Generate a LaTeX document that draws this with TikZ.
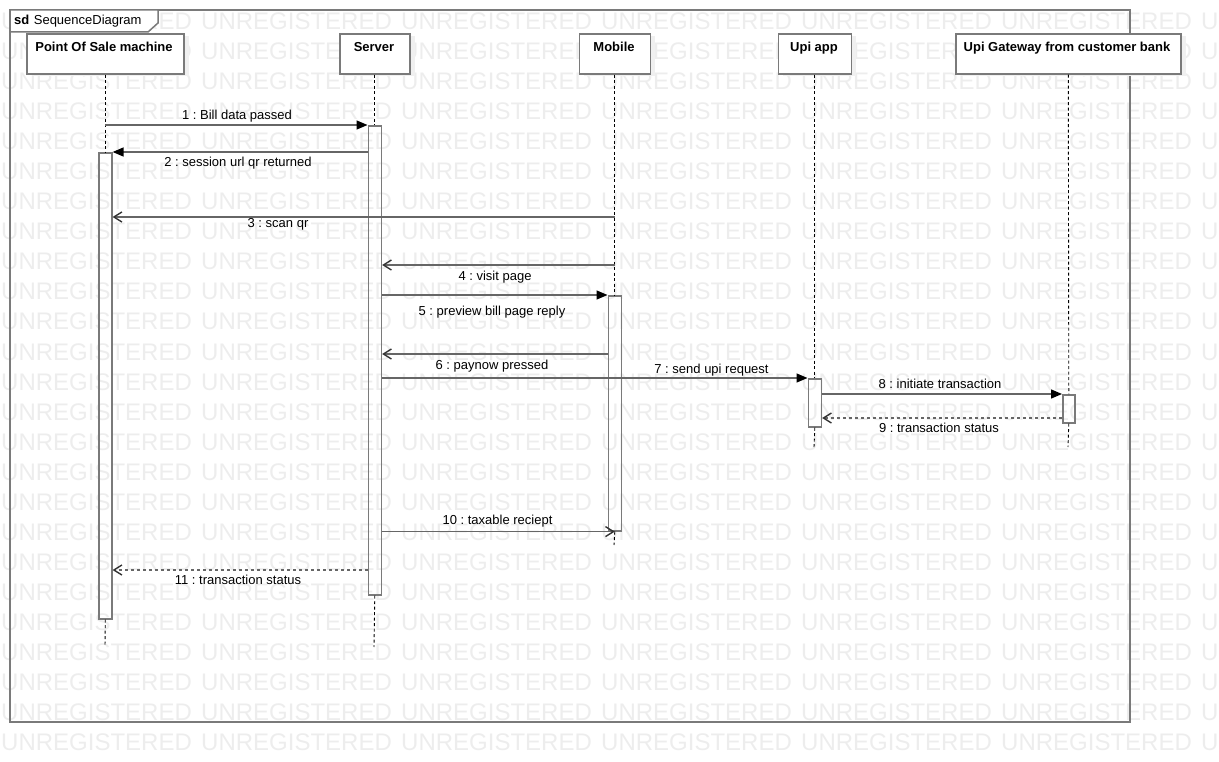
\documentclass[tikz,border=0pt]{standalone}
\usepackage{fontspec}
\setmainfont{Liberation Sans}
\usetikzlibrary{arrows.meta,shadows}
\frenchspacing
\begin{document}
\begin{tikzpicture}[x=1pt,y=-1pt,
 wm/.style={anchor=base west,inner sep=0pt,text=black!7,font=\fontsize{24}{24}\selectfont},
 frame/.style={draw=black!52,line width=2pt},
 head/.style={draw=black!52,line width=1.6pt,fill=white,anchor=north west,inner sep=0pt,minimum height=40pt,
   drop shadow={shadow xshift=5pt,shadow yshift=-2pt,fill=black!6,opacity=1}},
 ttl/.style={font=\bfseries\fontsize{13}{15}\selectfont,inner sep=0pt,anchor=base},
 lbl/.style={font=\fontsize{13}{15}\selectfont,inner sep=0pt,anchor=base},
 act/.style={draw=black!52,line width=1.6pt,anchor=north west,inner sep=0pt,minimum width=13pt},
 life/.style={black,line width=0.9pt,dash pattern=on 3pt off 2.5pt},
 msg/.style={draw=black!60,line width=1.4pt},
 sync/.style={msg,-{Triangle[length=11pt,width=9pt,black]}},
 async/.style={msg,-{Straight Barb[length=8pt,width=10pt,black!80]}},
 reply/.style={msg,dash pattern=on 3pt off 3pt,-{Straight Barb[length=8pt,width=10pt,black!80]}}
]
\useasboundingbox (0,0) rectangle (1219,762);
% watermark
\foreach \r in {0,...,24}{
  \foreach \c in {0,...,6}{
    \node[wm] at (\c*200+1,30+\r*30) {UNREGISTERED};
  }
}
% frame
\draw[frame] (10,10) rectangle (1130,722);
\filldraw[fill=white,draw=black!52,line width=1.5pt] (10,10) -- (158,10) -- (158,23) -- (148,32) -- (10,32) -- cycle;
\node[lbl,anchor=base west] (sd) at (14,25) {\textbf{sd}\hspace{4.5pt}SequenceDiagram};

% lifeline heads
\node[head,minimum width=157pt] (pos) at (26,33) {};
\node[head,minimum width=70pt] (srv) at (339,33) {};
\node[head,minimum width=71pt] (mob) at (578.5,33) {};
\node[head,minimum width=73pt] (upi) at (777.5,33) {};
\node[head,minimum width=225pt] (gw) at (955,33) {};
\node[ttl] (posT) at (104,52) {Point Of Sale machine};
\node[ttl] (srvT) at (374,52) {Server};
\node[ttl] (mobT) at (614,52) {Mobile};
\node[ttl] (upiT) at (814,52) {Upi app};
\node[ttl] (gwT) at (1067,52) {Upi Gateway from customer bank};

% activations
\node[act,minimum height=466pt] (posA) at (98,152) {};
\node[act,minimum height=469pt] (srvA) at (367.5,125) {};
\node[act,minimum height=235pt] (mobA) at (607.5,295) {};
\node[act,minimum height=48pt] (upiA) at (807.5,378) {};
\node[act,minimum width=12pt,minimum height=28pt] (gwA) at (1062,394) {};

% lifeline ends
\coordinate (posE) at (105,647);
\coordinate (srvE) at (374,647);
\coordinate (mobE) at (614,545);
\coordinate (upiE) at (814,447);
\coordinate (gwE) at (1068,447);

\draw[life] (pos.south) -- (posA.north);
\draw[life] (posA.south) -- (posE);
\draw[life] (srv.south) -- (srvA.north);
\draw[life] (srvA.south) -- (srvE);
\draw[life] (mob.south) -- (mobA.north);
\draw[life] (mobA.south) -- (mobE);
\draw[life] (upi.south) -- (upiA.north);
\draw[life] (upiA.south) -- (upiE);
\draw[life] (gw.south) -- (gwA.north);
\draw[life] (gwA.south) -- (gwE);

% message rows
\coordinate (y3) at (0,217);
\coordinate (y4) at (0,265);
\coordinate (y6) at (0,354);
\coordinate (y9) at (0,418);
\coordinate (y11) at (0,570);

% messages
\draw[sync] (pos.south |- srvA.north) -- (srvA.north west);
\node[lbl] (l1) at (237,120) {1 : Bill data passed};
\draw[sync] (srvA.west |- posA.north) -- (posA.north east);
\node[lbl] (l2) at (238,167) {2 : session url qr returned};
\draw[async] (mob.south |- y3) -- (posA.east |- y3);
\node[lbl] (l3) at (278,228) {3 : scan qr};
\draw[async] (mob.south |- y4) -- (srvA.east |- y4);
\node[lbl] (l4) at (495,280) {4 : visit page};
\draw[sync] (srvA.east |- mobA.north) -- (mobA.north west);
\node[lbl] (l5) at (492,316) {5 : preview bill page reply};
\draw[async] (mobA.west |- y6) -- (srvA.east |- y6);
\node[lbl] (l6) at (492,369) {6 : paynow pressed};
\draw[sync] (srvA.east |- upiA.north) -- (upiA.north west);
\node[lbl] (l7) at (711.5,373) {7 : send upi request};
\draw[sync] (upiA.east |- gwA.north) -- (gwA.north west);
\node[lbl] (l8) at (940,388) {8 : initiate transaction};
\draw[reply] (gwA.west |- y9) -- (upiA.east |- y9);
\node[lbl] (l9) at (939,432) {9 : transaction status};
\draw[async] (srvA.east |- mobA.south) -- (mob.south |- mobA.south);
\node[lbl] (l10) at (497.5,524) {10 : taxable reciept};
\draw[reply] (srvA.west |- y11) -- (posA.east |- y11);
\node[lbl] (l11) at (238,584) {11 : transaction status};
\end{tikzpicture}
\end{document}
